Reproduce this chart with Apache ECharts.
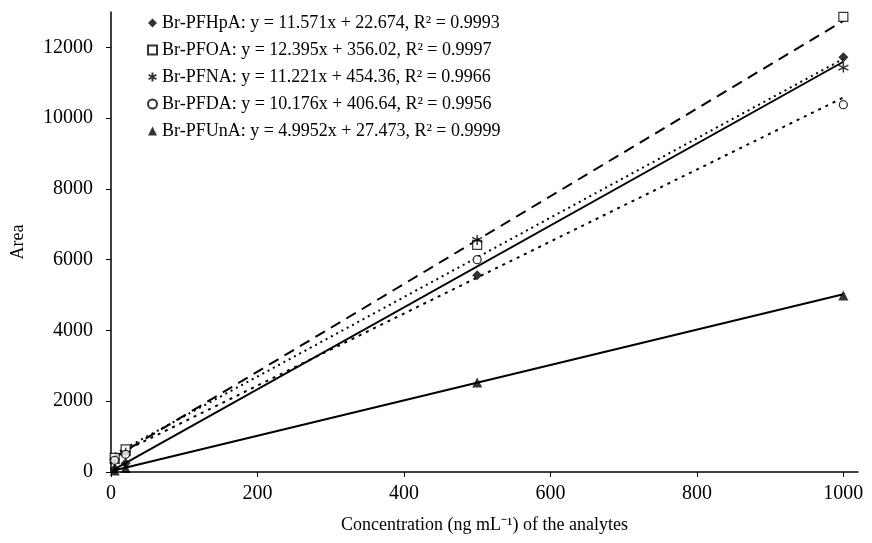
<!DOCTYPE html>
<html>
<head>
<meta charset="utf-8">
<script src="https://cdn.jsdelivr.net/npm/echarts@6/dist/echarts.min.js"></script>
<style>
  html, body { margin: 0; padding: 0; background: #fff; }
  #main { width: 872px; height: 543px; }
</style>
</head>
<body>
<div id="main"></div>
<script>
// 浓度 (x) 与峰面积数据
var conc = [5, 20, 500, 1000];
var pfhpa = [85, 250, 5560, 11720];
var pfoa = [400, 640, 6420, 12860];
var pfna = [300, 530, 6560, 11430];
var pfda = [330, 500, 6000, 10380];
var pfuna = [40, 110, 2530, 4990];

// 趋势线两端 (x=5 和 x=1000)
var trendX = [5, 1000];
var pfhpaTrend = [80, 11594];
var pfoaTrend = [418, 12751];
var pfnaTrend = [510, 11675];
var pfdaTrend = [458, 10583];
var pfunaTrend = [52, 5023];

var names = [
  'Br-PFHpA: y = 11.571x + 22.674, R² = 0.9993',
  'Br-PFOA: y = 12.395x + 356.02, R² = 0.9997',
  'Br-PFNA: y = 11.221x + 454.36, R² = 0.9966',
  'Br-PFDA: y = 10.176x + 406.64, R² = 0.9956',
  'Br-PFUnA: y = 4.9952x + 27.473, R² = 0.9999'
];

var font = 'Liberation Serif';
var star = 'path://M5,0L5,10M0.67,2.5L9.33,7.5M0.67,7.5L9.33,2.5';

function pts(vals) {
  return conc.map(function (c, i) { return [c, vals[i]]; });
}
function trend(vals) {
  return trendX.map(function (c, i) { return [c, vals[i]]; });
}
function trendSeries(vals, type) {
  return {
    type: 'line',
    data: trend(vals),
    symbol: 'none',
    silent: true,
    lineStyle: { color: '#000', width: 2, type: type },
    z: 1
  };
}

var chartDom = document.getElementById('main');
var myChart = echarts.init(chartDom);

var option = {
  animation: false,
  backgroundColor: '#fff',
  textStyle: { fontFamily: font, color: '#000' },
  grid: { left: 111, top: 12, right: 14, bottom: 71 },
  legend: {
    orient: 'vertical',
    left: 142,
    top: 9,
    itemWidth: 9,
    itemHeight: 9,
    itemGap: 9,
    data: names,
    textStyle: { fontFamily: font, fontSize: 18, color: '#000', lineHeight: 18 }
  },
  xAxis: {
    type: 'value',
    min: 0,
    max: 1020,
    interval: 200,
    name: 'Concentration (ng mL⁻¹) of the analytes',
    nameLocation: 'middle',
    nameGap: 44,
    nameTextStyle: { fontFamily: font, fontSize: 18, color: '#000' },
    axisLine: { lineStyle: { color: '#000', width: 1.5 } },
    axisTick: { show: true, length: 5, lineStyle: { color: '#000' } },
    axisLabel: { fontFamily: font, fontSize: 20, color: '#000', margin: 12, showMaxLabel: false,
      formatter: function (v) { return String(v); } },
    splitLine: { show: false }
  },
  yAxis: {
    type: 'value',
    min: 0,
    max: 13000,
    interval: 2000,
    name: 'Area',
    nameLocation: 'middle',
    nameGap: 84,
    nameTextStyle: { fontFamily: font, fontSize: 18, color: '#000' },
    axisLine: { show: true, lineStyle: { color: '#000', width: 1.5 } },
    axisTick: { show: true, length: 5, lineStyle: { color: '#000' } },
    axisLabel: { fontFamily: font, fontSize: 20, color: '#000', margin: 18, showMaxLabel: false,
      formatter: function (v) { return String(v); } },
    splitLine: { show: false }
  },
  series: [
    trendSeries(pfhpaTrend, 'solid'),
    trendSeries(pfoaTrend, [11, 7]),
    trendSeries(pfnaTrend, [2, 4]),
    trendSeries(pfdaTrend, [3, 5]),
    trendSeries(pfunaTrend, 'solid'),
    {
      name: names[0], type: 'scatter', data: pts(pfhpa),
      symbol: 'diamond', symbolSize: 10,
      itemStyle: { color: '#000' }, z: 3
    },
    {
      name: names[1], type: 'scatter', data: pts(pfoa),
      symbol: 'rect', symbolSize: 9,
      itemStyle: { color: '#fff', borderColor: '#000', borderWidth: 1.2 }, z: 3
    },
    {
      name: names[2], type: 'scatter', data: pts(pfna),
      symbol: star, symbolSize: 10,
      itemStyle: { color: 'rgba(0,0,0,0)', borderColor: '#000', borderWidth: 1.5 }, z: 3
    },
    {
      name: names[3], type: 'scatter', data: pts(pfda),
      symbol: 'circle', symbolSize: 8,
      itemStyle: { color: '#fff', borderColor: '#000', borderWidth: 1.3 }, z: 3
    },
    {
      name: names[4], type: 'scatter', data: pts(pfuna),
      symbol: 'triangle', symbolSize: 10,
      itemStyle: { color: '#000' }, z: 3
    }
  ]
};

myChart.setOption(option);
</script>
</body>
</html>
